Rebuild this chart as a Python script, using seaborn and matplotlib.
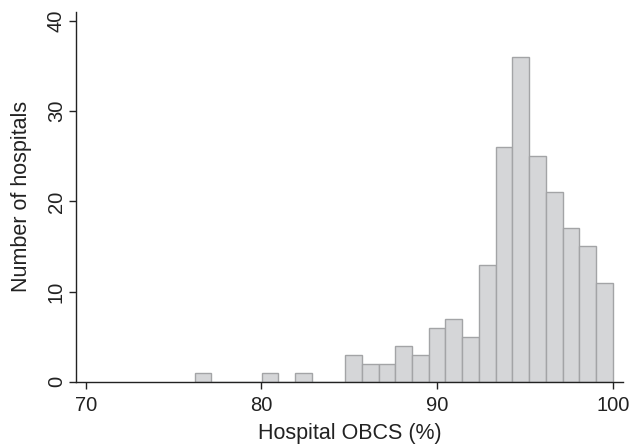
import numpy as np
import pandas as pd
import matplotlib
matplotlib.use("Agg")
import matplotlib.pyplot as plt
import seaborn as sns

# Histogram data (bins of equal width ending at 100)
bin_start = 76.2
bin_end = 100.0
n_bins = 25
counts = [1, 0, 0, 0, 1, 0, 1, 0, 0, 3, 2, 2, 4, 3, 6, 7, 5, 13, 26, 36, 25, 21, 17, 15, 11]
x_ticks = [70, 80, 90, 100]
y_ticks = [0, 10, 20, 30, 40]
x_label = "Hospital OBCS (%)"
y_label = "Number of hospitals"

edges = np.linspace(bin_start, bin_end, n_bins + 1)
centers = (edges[:-1] + edges[1:]) / 2
df = pd.DataFrame({"score": centers, "n": counts})

sns.set_theme(style="ticks")
plt.rcParams['font.family'] = ['Liberation Sans', 'DejaVu Sans']

fig = plt.figure(figsize=(6.35, 4.48), dpi=100)
ax = fig.add_axes([0.1192, 0.148, 0.981 - 0.1192, 0.973 - 0.148])

sns.histplot(data=df, x="score", weights="n", bins=list(edges), ax=ax,
             color="#d5d6d8", edgecolor="#a3a4a6", linewidth=1.0, alpha=1.0)

ax.set_xlim(69.43, 100.58)
ax.set_ylim(0, 41)
ax.set_xticks(x_ticks)
ax.set_yticks(y_ticks)
ax.set_xticklabels([str(v) for v in x_ticks], fontsize=14.5, color="#222222")
ax.set_yticklabels([str(v) for v in y_ticks], fontsize=14.5, color="#222222",
                   rotation=90, va="center")
ax.tick_params(axis="both", direction="out", length=5, width=1.0, color="#222222")
ax.tick_params(axis="x", pad=5)
ax.tick_params(axis="y", pad=2)
ax.set_xlabel(x_label, fontsize=15.5, color="#222222", labelpad=6)
ax.set_ylabel(y_label, fontsize=15.5, color="#222222", labelpad=11)
for s in ["top", "right"]:
    ax.spines[s].set_visible(False)
for s in ["left", "bottom"]:
    ax.spines[s].set_color("#222222")
    ax.spines[s].set_linewidth(1.0)

fig.savefig("out.png", dpi=100)
